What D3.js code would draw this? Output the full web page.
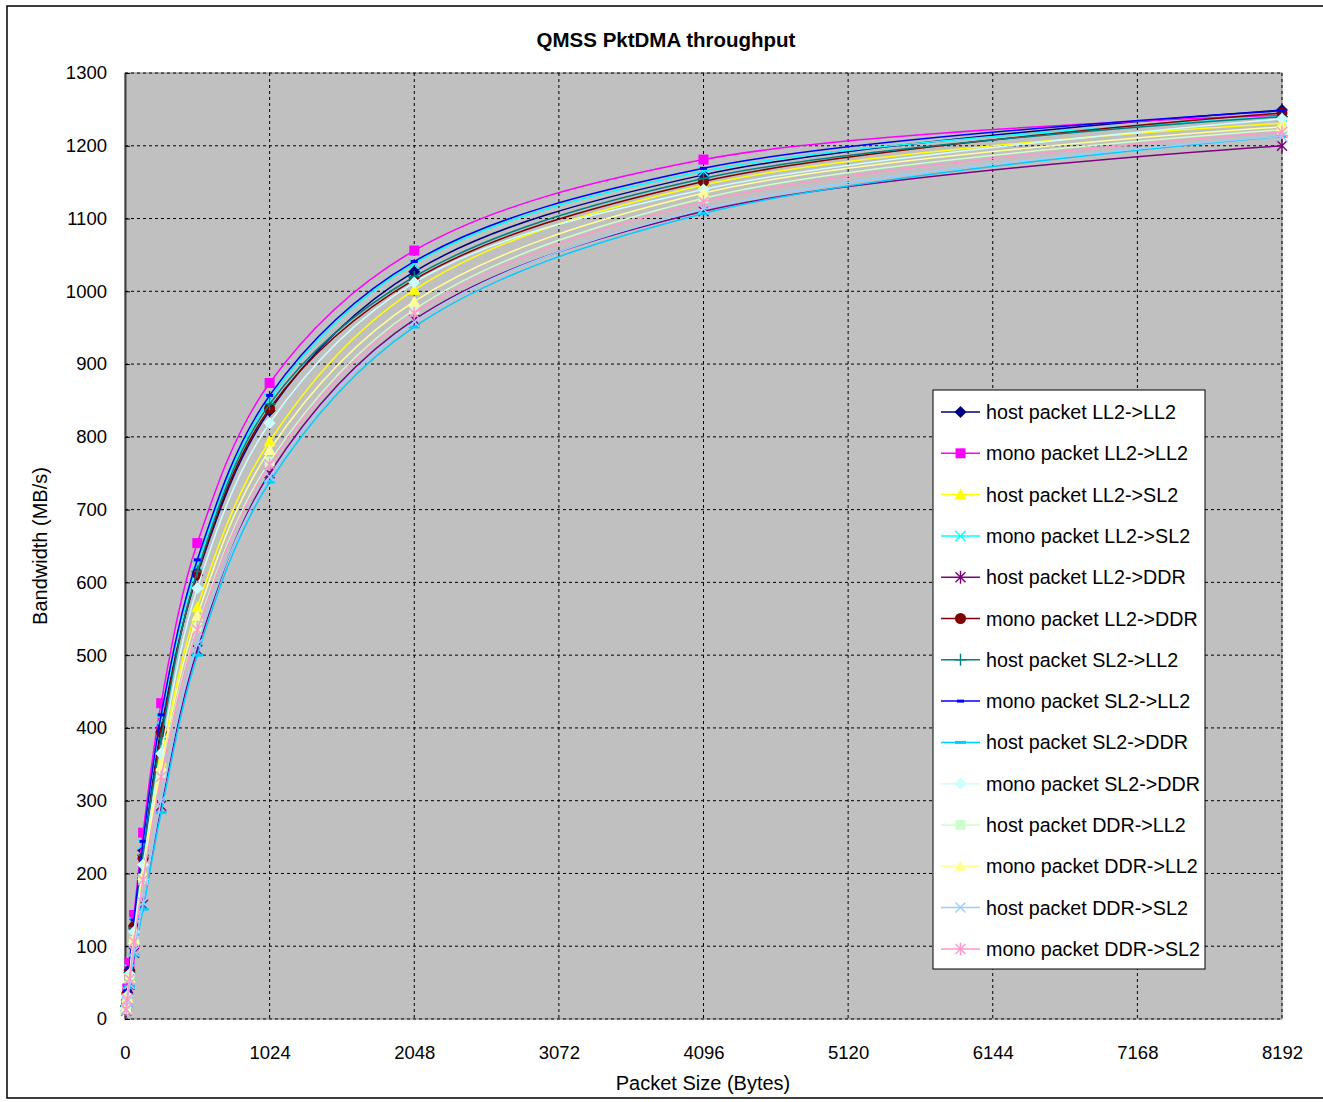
<!DOCTYPE html>
<html>
<head>
<meta charset="utf-8">
<script src="https://cdn.jsdelivr.net/npm/d3@7"></script>
<style>
body { margin: 0; background: #fff; }
text { font-family: "Liberation Sans", Arial, sans-serif; }
</style>
</head>
<body>
<script>
// packet sizes (bytes) and bandwidth (MB/s)
const sizes = [8, 16, 32, 64, 128, 256, 512, 1024, 2048, 4096, 8192];
const hostLL2toLL2 = [18, 36, 67, 128, 232, 400, 610, 836, 1027, 1160, 1249];
const monoLL2toLL2 = [21, 42, 77, 143, 256, 434, 654, 874, 1056, 1181, 1242];
const hostLL2toSL2 = [15, 30, 58, 113, 202, 355, 566, 794, 1002, 1146, 1231];
const monoLL2toSL2 = [18.5, 37, 68, 133, 240, 412, 625, 852, 1038, 1165, 1240];
const hostLL2toDDR = [11.5, 23, 47, 91, 157, 293, 507, 750, 961, 1110, 1200];
const monoLL2toDDR = [17.5, 35, 66, 127, 221, 394, 612, 839, 1016, 1151, 1245];
const hostSL2toLL2 = [17, 34, 64, 125, 225, 385, 615, 845, 1020, 1155, 1240];
const monoSL2toLL2 = [19, 38, 70, 136, 244, 418, 631, 857, 1041, 1169, 1248];
const hostSL2toDDR = [11, 22, 45, 88, 151, 284, 500, 738, 951, 1107, 1213];
const monoSL2toDDR = [16, 32, 62, 120, 212, 365, 592, 819, 1012, 1140, 1237];
const hostDDRtoLL2 = [14, 28, 56, 107, 193, 338, 538, 766, 975, 1128, 1222];
const monoDDRtoLL2 = [14.5, 29, 57, 110, 198, 348, 554, 782, 986, 1135, 1226];
const hostDDRtoSL2 = [12, 24, 48, 93, 160, 300, 515, 745, 958, 1113, 1213];
const monoDDRtoSL2 = [13.5, 27, 55, 106, 191, 333, 535, 762, 970, 1123, 1219];

const xTicks = [0, 1024, 2048, 3072, 4096, 5120, 6144, 7168, 8192];
const yTicks = [0, 100, 200, 300, 400, 500, 600, 700, 800, 900, 1000, 1100, 1200, 1300];

const series = [
  { name: "host packet LL2->LL2", values: hostLL2toLL2, color: "#000080", marker: "diamond" },
  { name: "mono packet LL2->LL2", values: monoLL2toLL2, color: "#FF00FF", marker: "square" },
  { name: "host packet LL2->SL2", values: hostLL2toSL2, color: "#FFFF00", marker: "triangle" },
  { name: "mono packet LL2->SL2", values: monoLL2toSL2, color: "#00FFFF", marker: "x" },
  { name: "host packet LL2->DDR", values: hostLL2toDDR, color: "#800080", marker: "star" },
  { name: "mono packet LL2->DDR", values: monoLL2toDDR, color: "#800000", marker: "circle" },
  { name: "host packet SL2->LL2", values: hostSL2toLL2, color: "#008080", marker: "plus" },
  { name: "mono packet SL2->LL2", values: monoSL2toLL2, color: "#0000FF", marker: "dash" },
  { name: "host packet SL2->DDR", values: hostSL2toDDR, color: "#00CCFF", marker: "longdash" },
  { name: "mono packet SL2->DDR", values: monoSL2toDDR, color: "#CCFFFF", marker: "diamond" },
  { name: "host packet DDR->LL2", values: hostDDRtoLL2, color: "#CCFFCC", marker: "square" },
  { name: "mono packet DDR->LL2", values: monoDDRtoLL2, color: "#FFFF99", marker: "triangle" },
  { name: "host packet DDR->SL2", values: hostDDRtoSL2, color: "#99CCFF", marker: "x" },
  { name: "mono packet DDR->SL2", values: monoDDRtoSL2, color: "#FF99CC", marker: "star" }
];

const width = 1323, height = 1102;
const plot = { left: 125, top: 73, right: 1282, bottom: 1019 };

const svg = d3.select("body").append("svg")
  .attr("width", width).attr("height", height);

// outer chart frame
svg.append("rect")
  .attr("x", 7).attr("y", 6).attr("width", 1330).attr("height", 1092)
  .attr("fill", "#fff").attr("stroke", "#000").attr("stroke-width", 1.5);

const xScale = d3.scaleLinear().domain([0, 8192]).range([plot.left, plot.right]);
const yScale = d3.scaleLinear().domain([0, 1300]).range([plot.bottom, plot.top]);

svg.append("rect")
  .attr("x", plot.left).attr("y", plot.top)
  .attr("width", plot.right - plot.left).attr("height", plot.bottom - plot.top)
  .attr("fill", "#C0C0C0").attr("stroke", "#808080").attr("stroke-width", 1);

// gridlines
svg.append("g").selectAll("line").data(yTicks).join("line")
  .attr("x1", plot.left).attr("x2", plot.right)
  .attr("y1", d => yScale(d)).attr("y2", d => yScale(d))
  .attr("stroke", "#000").attr("stroke-width", 1).attr("stroke-dasharray", "3,3");
svg.append("g").selectAll("line").data(xTicks.slice(1)).join("line")
  .attr("x1", d => xScale(d)).attr("x2", d => xScale(d))
  .attr("y1", plot.top).attr("y2", plot.bottom)
  .attr("stroke", "#000").attr("stroke-width", 1).attr("stroke-dasharray", "3,3");

// axes
const xAxis = d3.axisBottom(xScale).tickValues(xTicks).tickFormat(d3.format("d"))
  .tickSize(0).tickPadding(27);
const yAxis = d3.axisLeft(yScale).tickValues(yTicks).tickFormat(d3.format("d"))
  .tickSizeInner(-5).tickSizeOuter(0).tickPadding(18);

const gx = svg.append("g").attr("transform", "translate(0," + plot.bottom + ")").call(xAxis);
const gy = svg.append("g").attr("transform", "translate(" + plot.left + ",0)").call(yAxis);
gx.select(".domain").remove();
gy.select(".domain").attr("stroke", "#404040").attr("stroke-width", 2);
gy.selectAll(".tick line").attr("stroke", "#000");
[gx, gy].forEach(g => {
  g.selectAll(".tick text").attr("font-size", 18.5).attr("fill", "#000")
    .attr("font-family", "'Liberation Sans', Arial, sans-serif");
});

// lines
const line = d3.line()
  .x((d, i) => xScale(sizes[i]))
  .y(d => yScale(d))
  .curve(d3.curveCatmullRom);

const markerPath = {
  diamond: "M0,-6L6,0L0,6L-6,0Z",
  square: "M-5,-5H5V5H-5Z",
  triangle: "M0,-6L6,5H-6Z",
  x: "M-5,-5L5,5M5,-5L-5,5",
  star: "M-5,-5L5,5M5,-5L-5,5M0,-6.5V6.5",
  plus: "M-6,0H6M0,-6V6",
  dash: "M-3.5,0H3.5",
  longdash: "M-5.5,0H5.5"
};
const filled = { diamond: true, square: true, triangle: true, circle: true };

function drawMarker(g, s, x, y) {
  if (s.marker === "circle") {
    g.append("circle").attr("cx", x).attr("cy", y).attr("r", 5.5)
      .attr("fill", s.color);
  } else if (filled[s.marker]) {
    g.append("path").attr("d", markerPath[s.marker])
      .attr("transform", "translate(" + x + "," + y + ")")
      .attr("fill", s.color);
  } else {
    g.append("path").attr("d", markerPath[s.marker])
      .attr("transform", "translate(" + x + "," + y + ")")
      .attr("fill", "none").attr("stroke", s.color)
      .attr("stroke-width", (s.marker === "dash" || s.marker === "longdash") ? 3 : 1.4);
  }
}

series.forEach(s => {
  const g = svg.append("g");
  g.append("path").datum(s.values)
    .attr("d", line)
    .attr("fill", "none").attr("stroke", s.color).attr("stroke-width", 1.5);
  s.values.forEach((v, i) => drawMarker(g, s, xScale(sizes[i]), yScale(v)));
});

// title and axis titles
svg.append("text").attr("x", 666).attr("y", 47).attr("text-anchor", "middle")
  .attr("font-size", 20.5).attr("font-weight", "bold").text("QMSS PktDMA throughput");
svg.append("text").attr("x", 703).attr("y", 1090).attr("text-anchor", "middle")
  .attr("font-size", 20).text("Packet Size (Bytes)");
svg.append("text").attr("transform", "translate(47,546) rotate(-90)")
  .attr("text-anchor", "middle").attr("font-size", 20).text("Bandwidth (MB/s)");

// legend
const legend = svg.append("g");
legend.append("rect").attr("x", 933).attr("y", 390).attr("width", 272).attr("height", 579)
  .attr("fill", "#fff").attr("stroke", "#000").attr("stroke-width", 1);
series.forEach((s, i) => {
  const y = 412 + i * 41.3;
  const g = legend.append("g");
  g.append("line").attr("x1", 941).attr("x2", 980).attr("y1", y).attr("y2", y)
    .attr("stroke", s.color).attr("stroke-width", 1.5);
  drawMarker(g, s, 960.5, y);
  g.append("text").attr("x", 986).attr("y", y + 7).attr("font-size", 19.7).text(s.name);
});
</script>
</body>
</html>
